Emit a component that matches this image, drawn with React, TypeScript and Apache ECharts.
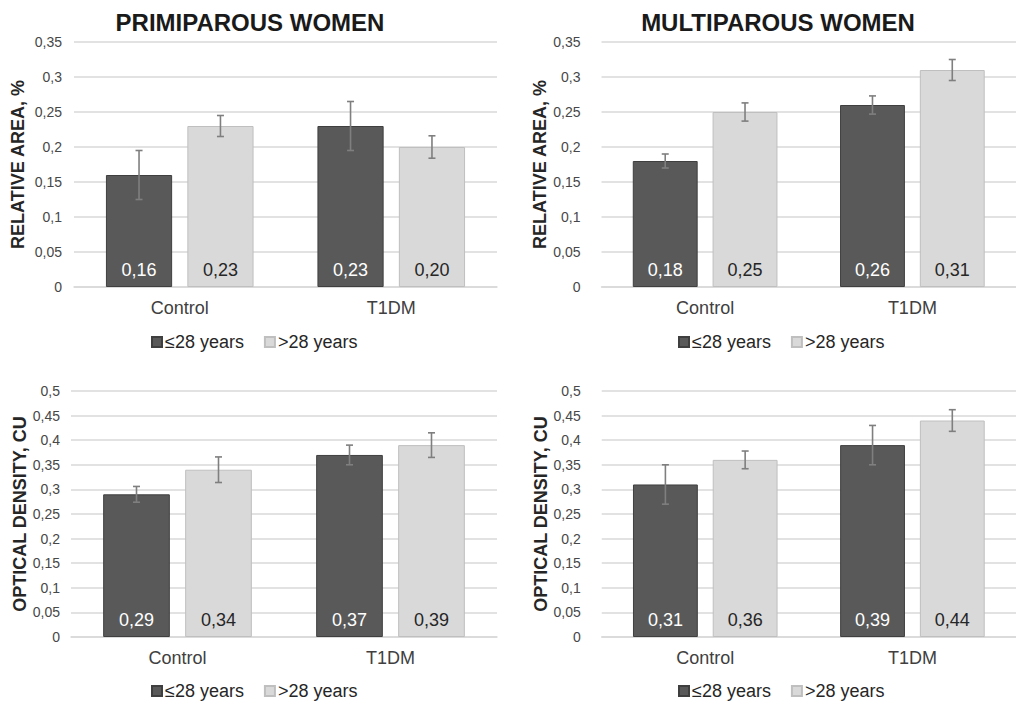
import React, { useEffect, useRef } from "react";
import * as echarts from "echarts";

const categories = ["Control", "T1DM"];
const seriesNames = ["≤28 years", ">28 years"];

// Relative area, % (top row)
const areaPrimYoung = [0.16, 0.23];
const areaPrimOld = [0.23, 0.2];
const areaPrimYoungErr = [0.035, 0.035];
const areaPrimOldErr = [0.015, 0.016];

const areaMultiYoung = [0.18, 0.26];
const areaMultiOld = [0.25, 0.31];
const areaMultiYoungErr = [0.01, 0.013];
const areaMultiOldErr = [0.013, 0.015];

// Optical density, CU (bottom row)
const odPrimYoung = [0.29, 0.37];
const odPrimOld = [0.34, 0.39];
const odPrimYoungErr = [0.016, 0.02];
const odPrimOldErr = [0.026, 0.025];

const odMultiYoung = [0.31, 0.39];
const odMultiOld = [0.36, 0.44];
const odMultiYoungErr = [0.04, 0.04];
const odMultiOldErr = [0.018, 0.022];

const titles = ["PRIMIPAROUS WOMEN", "MULTIPAROUS WOMEN"];
const yNames = ["RELATIVE AREA, %", "OPTICAL DENSITY, CU"];

const FONT = '"Liberation Sans", Arial, Helvetica, sans-serif';
const DARK = "#595959";
const LIGHT = "#d9d9d9";
const BAR_W = 0.313;
const BAR_GAP = 0.23;

const fmtTick = (v: number) => String(Math.round(v * 100) / 100).replace(".", ",");
const fmtVal = (v: number) => v.toFixed(2).replace(".", ",");

export default function App() {
  const ref = useRef<HTMLDivElement>(null);

  useEffect(() => {
    if (!ref.current) return;
    const chart = echarts.init(ref.current, null, { renderer: "svg" });

    const panels = [
      { grid: { left: 74, top: 42, width: 423, height: 245 }, max: 0.35, young: areaPrimYoung, old: areaPrimOld, ye: areaPrimYoungErr, oe: areaPrimOldErr, yName: yNames[0], gap: 47, labelMargin: 12, legend: { left: 146, top: 328 } },
      { grid: { left: 601.5, top: 42, width: 424, height: 245 }, max: 0.35, young: areaMultiYoung, old: areaMultiOld, ye: areaMultiYoungErr, oe: areaMultiOldErr, yName: yNames[0], gap: 46, labelMargin: 21, legend: { left: 673, top: 328 } },
      { grid: { left: 71, top: 391, width: 426, height: 246 }, max: 0.5, young: odPrimYoung, old: odPrimOld, ye: odPrimYoungErr, oe: odPrimOldErr, yName: yNames[1], gap: 42, labelMargin: 11, legend: { left: 146, top: 677 } },
      { grid: { left: 601.7, top: 391, width: 424, height: 246 }, max: 0.5, young: odMultiYoung, old: odMultiOld, ye: odMultiYoungErr, oe: odMultiOldErr, yName: yNames[1], gap: 46, labelMargin: 21, legend: { left: 673, top: 677 } },
    ];

    const renderErr = (params: any, api: any) => {
      const cat = api.value(0);
      const v = api.value(1);
      const e = api.value(2);
      const g = api.value(3);
      const band = api.size([1, 0])[0];
      const off = ((band * BAR_W * (1 + BAR_GAP)) / 2) * (g === 0 ? -1 : 1);
      const top = api.coord([cat, v + e]);
      const bot = api.coord([cat, v - e]);
      const x = top[0] + off;
      const style = { stroke: "#7f7f7f", lineWidth: 1.6 };
      const cw = 3.5;
      return {
        type: "group",
        children: [
          { type: "line", shape: { x1: x, y1: top[1], x2: x, y2: bot[1] }, style },
          { type: "line", shape: { x1: x - cw, y1: top[1], x2: x + cw, y2: top[1] }, style },
          { type: "line", shape: { x1: x - cw, y1: bot[1], x2: x + cw, y2: bot[1] }, style },
        ],
      };
    };

    const series: any[] = [];
    panels.forEach((p, i) => {
      series.push({
        name: seriesNames[0],
        type: "bar",
        xAxisIndex: i,
        yAxisIndex: i,
        data: p.young,
        barWidth: BAR_W * 100 + "%",
        barGap: BAR_GAP * 100 + "%",
        itemStyle: { color: DARK, borderColor: "#3f3f3f", borderWidth: 1 },
        label: { show: true, position: "insideBottom", distance: 8, color: "#ffffff", fontSize: 18, fontFamily: FONT, formatter: (d: any) => fmtVal(d.value) },
      });
      series.push({
        name: seriesNames[1],
        type: "bar",
        xAxisIndex: i,
        yAxisIndex: i,
        data: p.old,
        barWidth: BAR_W * 100 + "%",
        barGap: BAR_GAP * 100 + "%",
        itemStyle: { color: LIGHT, borderColor: "#bfbfbf", borderWidth: 1 },
        label: { show: true, position: "insideBottom", distance: 8, color: "#262626", fontSize: 18, fontFamily: FONT, formatter: (d: any) => fmtVal(d.value) },
      });
      const errData: number[][] = [];
      categories.forEach((_, c) => {
        errData.push([c, p.young[c], p.ye[c], 0]);
        errData.push([c, p.old[c], p.oe[c], 1]);
      });
      series.push({
        name: "err" + i,
        type: "custom",
        xAxisIndex: i,
        yAxisIndex: i,
        z: 5,
        silent: true,
        renderItem: renderErr,
        encode: { x: 0, y: 1 },
        data: errData,
      });
    });

    const option: any = {
      animation: false,
      backgroundColor: "#ffffff",
      textStyle: { fontFamily: FONT },
      grid: panels.map((p) => ({ ...p.grid, containLabel: false })),
      xAxis: panels.map((p, i) => ({
        type: "category",
        gridIndex: i,
        data: categories,
        axisLine: { show: true, lineStyle: { color: "#d9d9d9", width: 1.5 } },
        axisTick: { show: false },
        axisLabel: { color: "#404040", fontSize: 18, margin: 12, fontFamily: FONT },
      })),
      yAxis: panels.map((p, i) => ({
        type: "value",
        gridIndex: i,
        min: 0,
        max: p.max,
        interval: 0.05,
        name: p.yName,
        nameLocation: "middle",
        nameGap: p.gap,
        nameRotate: 90,
        nameTextStyle: { color: "#262626", fontSize: 18, fontWeight: "bold", fontFamily: FONT },
        axisLine: { show: false },
        axisTick: { show: false },
        splitLine: { lineStyle: { color: "#d9d9d9", width: 1.5 } },
        axisLabel: { color: "#474747", fontSize: 14, margin: p.labelMargin, fontFamily: FONT, formatter: fmtTick },
      })),
      legend: panels.map((p) => ({
        left: p.legend.left,
        top: p.legend.top,
        data: seriesNames,
        icon: "rect",
        itemWidth: 10,
        itemHeight: 10,
        itemGap: 20,
        selectedMode: false,
        textStyle: { color: "#262626", fontSize: 18, fontFamily: FONT, padding: [0, 0, 0, -2] },
      })),
      graphic: [
        { type: "text", x: 250, y: 22, style: { text: titles[0], fill: "#1a1a1a", font: `bold 24px ${FONT}`, textAlign: "center", textVerticalAlign: "middle" } },
        { type: "text", x: 778, y: 22, style: { text: titles[1], fill: "#1a1a1a", font: `bold 24px ${FONT}`, textAlign: "center", textVerticalAlign: "middle" } },
      ],
      series,
    };

    chart.setOption(option);
    return () => chart.dispose();
  }, []);

  return <div ref={ref} style={{ position: "fixed", left: 0, top: 0, width: 1016, height: 702, background: "#fff" }} />;
}
